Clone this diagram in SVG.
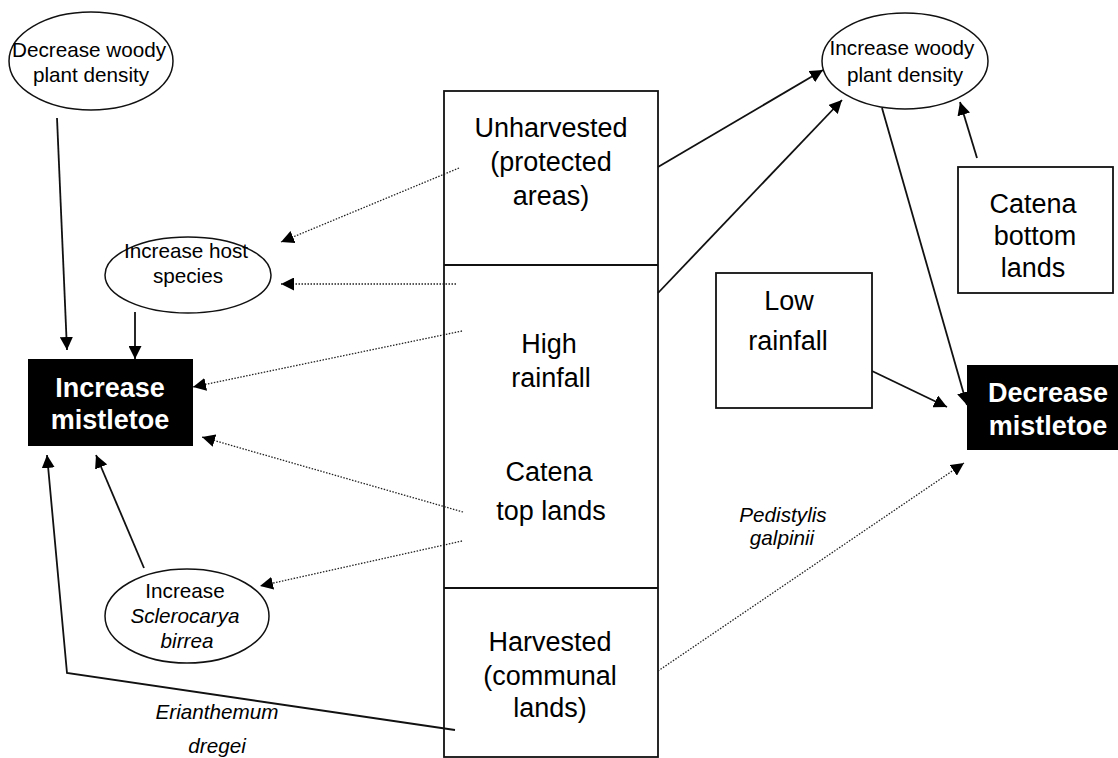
<svg xmlns="http://www.w3.org/2000/svg" width="1118" height="758" viewBox="0 0 1118 758">
<defs>
<marker id="ah" markerUnits="userSpaceOnUse" markerWidth="14" markerHeight="13" refX="13" refY="6.5" orient="auto" viewBox="0 0 14 13">
<path d="M0,0 L13,6.5 L0,13 z" fill="#000"/>
</marker>
</defs>
<style>
text{font-family:"Liberation Sans",Arial,sans-serif;fill:#000;text-anchor:middle}
.s20{font-size:20.7px}
.s27{font-size:27px}
.it{font-style:italic}
.wb{font-size:27px;font-weight:bold;fill:#fff}
.box{fill:#fff;stroke:#111;stroke-width:1.8}
.blk{fill:#000;stroke:none}
.ell{fill:#fff;stroke:#111;stroke-width:1.5}
.sol{fill:none;stroke:#111;stroke-width:1.8;marker-end:url(#ah)}
.dot{fill:none;stroke:#222;stroke-width:1.3;stroke-dasharray:1.5 1.5;marker-end:url(#ah)}
</style>
<rect width="1118" height="758" fill="#fff"/>

<g id="column">
<rect class="box" x="444" y="91" width="214" height="666"/>
<line x1="444" y1="265" x2="658" y2="265" stroke="#111" stroke-width="1.8"/>
<line x1="444" y1="588" x2="658" y2="588" stroke="#111" stroke-width="1.8"/>
</g>
<g id="unharvested">
<text class="s27" x="551" y="137">Unharvested</text>
<text class="s27" x="551" y="171">(protected</text>
<text class="s27" x="551" y="205">areas)</text>
</g>
<g id="high-rainfall">
<text class="s27" x="549" y="353">High</text>
<text class="s27" x="551" y="387">rainfall</text>
</g>
<g id="catena-top">
<text class="s27" x="549" y="481">Catena</text>
<text class="s27" x="551" y="520">top lands</text>
</g>
<g id="harvested">
<text class="s27" x="550" y="651">Harvested</text>
<text class="s27" x="550" y="685">(communal</text>
<text class="s27" x="550" y="717">lands)</text>
</g>

<g id="decrease-woody">
<ellipse class="ell" cx="91" cy="61" rx="82" ry="49"/>
<text class="s20" x="89" y="57">Decrease woody</text>
<text class="s20" x="91" y="82">plant density</text>
</g>
<g id="increase-woody">
<ellipse class="ell" cx="905" cy="61" rx="83" ry="48"/>
<text class="s20" x="902" y="55">Increase woody</text>
<text class="s20" x="905" y="82">plant density</text>
</g>
<g id="increase-host">
<ellipse class="ell" cx="188" cy="275" rx="83" ry="38"/>
<text class="s20" x="186" y="258">Increase host</text>
<text class="s20" x="188" y="283">species</text>
</g>
<g id="increase-sclerocarya">
<ellipse class="ell" cx="187" cy="616" rx="82" ry="47"/>
<text class="s20" x="185" y="598">Increase</text>
<text class="s20 it" x="185" y="623">Sclerocarya</text>
<text class="s20 it" x="187" y="648">birrea</text>
</g>
<g id="increase-mistletoe">
<rect class="blk" x="28" y="359" width="165" height="87"/>
<text class="wb" x="110" y="397">Increase</text>
<text class="wb" x="110" y="429">mistletoe</text>
</g>
<g id="decrease-mistletoe">
<rect class="blk" x="967" y="365" width="151" height="85"/>
<text class="wb" x="1048" y="402">Decrease</text>
<text class="wb" x="1048" y="435">mistletoe</text>
</g>
<g id="low-rainfall">
<rect class="box" x="716" y="273" width="156" height="135"/>
<text class="s27" x="789" y="310">Low</text>
<text class="s27" x="788" y="350">rainfall</text>
</g>
<g id="catena-bottom">
<rect class="box" x="958" y="167" width="155" height="126"/>
<text class="s27" x="1033" y="213">Catena</text>
<text class="s27" x="1035" y="245">bottom</text>
<text class="s27" x="1033" y="277">lands</text>
</g>

<g id="labels">
<text class="s20 it" x="217" y="719">Erianthemum</text>
<text class="s20 it" x="217" y="753">dregei</text>
<text class="s20 it" x="783" y="522">Pedistylis</text>
<text class="s20 it" x="782" y="545">galpinii</text>
</g>

<g id="connectors">
<line class="sol" x1="57" y1="118" x2="67" y2="350"/>
<line class="sol" x1="135" y1="312" x2="135" y2="359"/>
<line class="dot" x1="462" y1="331" x2="193" y2="387"/>
<line class="dot" x1="463" y1="512" x2="202" y2="437"/>
<line class="dot" x1="459" y1="168" x2="281" y2="242"/>
<line class="dot" x1="456" y1="284" x2="281" y2="284"/>
<line class="dot" x1="462" y1="541" x2="260" y2="586"/>
<line class="sol" x1="144" y1="568" x2="96" y2="455"/>
<polyline class="sol" points="455,730 67,673 47,455"/>
<line class="sol" x1="658" y1="167" x2="823" y2="70"/>
<line class="sol" x1="658" y1="293" x2="842" y2="100"/>
<line class="sol" x1="977" y1="158" x2="960" y2="102"/>
<line class="sol" x1="882" y1="108" x2="967" y2="405"/>
<line class="sol" x1="872" y1="371" x2="947" y2="407"/>
<line class="dot" x1="658" y1="671" x2="964" y2="463"/>
</g>
</svg>
